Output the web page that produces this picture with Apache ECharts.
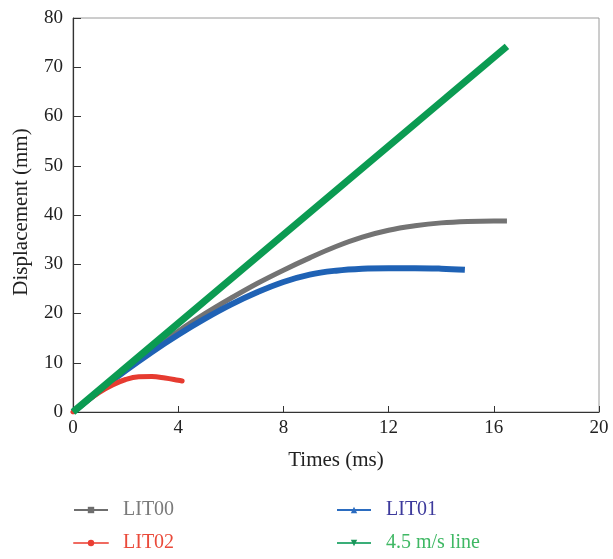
<!DOCTYPE html>
<html>
<head>
<meta charset="utf-8">
<script src="https://cdn.jsdelivr.net/npm/echarts@6/dist/echarts.min.js"></script>
<style>html,body{margin:0;padding:0;background:#fff}#c{width:613px;height:559px}</style>
</head>
<body>
<div id="c"></div>
<script>
var xTicks = [0, 4, 8, 12, 16, 20];
var yTicks = [0, 10, 20, 30, 40, 50, 60, 70, 80];
var seriesNames = ['LIT00', 'LIT01', 'LIT02', '4.5 m/s line'];

var lit00X = [0, 1, 2, 3, 4, 5, 6, 7, 8, 9, 10, 11, 12, 13, 14, 15, 16, 16.5];
var lit00Y = [0, 4.4, 8.7, 12.7, 16.4, 19.9, 23.1, 26.1, 28.8, 31.3, 33.6, 35.5, 36.9, 37.8, 38.4, 38.7, 38.8, 38.8];

var lit01X = [0, 1, 2, 3, 4, 5, 6, 7, 8, 9, 10, 11, 12, 13, 14, 14.9];
var lit01Y = [0, 4.3, 8.4, 12.2, 15.7, 18.9, 21.8, 24.3, 26.4, 27.9, 28.7, 29.1, 29.2, 29.2, 29.1, 28.9];

var lit02X = [0, 0.5, 1, 1.5, 2, 2.5, 3, 3.5, 4, 4.15];
var lit02Y = [0, 2.1, 4.0, 5.5, 6.6, 7.15, 7.2, 6.9, 6.45, 6.3];

var lineX = [0, 16.5];
var lineY = [0, 74.25];

function pairs(xs, ys) { return xs.map(function (x, i) { return [x, ys[i]]; }); }

var FONT = '"Liberation Serif", "DejaVu Serif", serif';
var chart = echarts.init(document.getElementById('c'), null, {renderer: 'canvas'});

function legend(name, left, top, textColor, lineColor, symColor) {
  return {
    data: [{name: name, lineStyle: {width: 2, color: lineColor}, itemStyle: {color: symColor}}],
    left: left, top: top,
    itemWidth: 34, itemHeight: 8,
    selectedMode: false,
    textStyle: {fontFamily: FONT, fontSize: 20, color: textColor, padding: [0, 0, 0, 10]}
  };
}

var option = {
  animation: false,
  backgroundColor: '#fff',
  grid: {left: 73, right: 14, top: 18, bottom: 147, show: true, borderColor: '#9a9a9a', borderWidth: 1},
  legend: [
    legend(seriesNames[0], 68, 495, '#7a7a7a', '#6e6e6e', '#6e6e6e'),
    legend(seriesNames[1], 331, 495, '#3d3a9c', '#2b6cc0', '#2b6cc0'),
    legend(seriesNames[2], 68, 528, '#ea4a3a', '#f06a60', '#ea3e33'),
    legend(seriesNames[3], 331, 528, '#3fb864', '#3aae78', '#19965a')
  ],
  xAxis: {
    type: 'value', min: xTicks[0], max: xTicks[xTicks.length - 1], interval: 4,
    name: 'Times (ms)', nameLocation: 'middle', nameGap: 38,
    nameTextStyle: {fontFamily: FONT, fontSize: 21, color: '#222'},
    axisLine: {show: true, lineStyle: {color: '#333', width: 1.2}},
    axisTick: {show: true, inside: true, length: 6, lineStyle: {color: '#333'}},
    axisLabel: {fontFamily: FONT, fontSize: 19, color: '#222', margin: 7},
    splitLine: {show: false}
  },
  yAxis: {
    type: 'value', min: yTicks[0], max: yTicks[yTicks.length - 1], interval: 10,
    name: 'Displacement (mm)', nameLocation: 'middle', nameGap: 41,
    nameTextStyle: {fontFamily: FONT, fontSize: 21, color: '#222', padding: [0, 0, 0, 6]},
    axisLine: {show: true, lineStyle: {color: '#333', width: 1.2}},
    axisTick: {show: true, inside: true, length: 8, lineStyle: {color: '#333'}},
    axisLabel: {fontFamily: FONT, fontSize: 19, color: '#222', margin: 10},
    splitLine: {show: false}
  },
  series: [
    {name: seriesNames[0], type: 'line', data: pairs(lit00X, lit00Y), smooth: 0.4, showSymbol: false, symbol: 'rect', z: 2,
     lineStyle: {width: 5, color: '#737373'}, itemStyle: {color: '#737373'}},
    {name: seriesNames[1], type: 'line', data: pairs(lit01X, lit01Y), smooth: 0.4, showSymbol: false, symbol: 'triangle', z: 3,
     lineStyle: {width: 6, color: '#1f62b5'}, itemStyle: {color: '#1f62b5'}},
    {name: seriesNames[2], type: 'line', data: pairs(lit02X, lit02Y), smooth: 0.4, showSymbol: false, symbol: 'circle', z: 4,
     lineStyle: {width: 5, color: '#e63b30', cap: 'round'}, itemStyle: {color: '#e63b30'}},
    {name: seriesNames[3], type: 'line', data: pairs(lineX, lineY), showSymbol: false, symbol: 'path://M0,0 L10,0 L5,9 Z', z: 5,
     lineStyle: {width: 7, color: '#0b9b52'}, itemStyle: {color: '#0b9b52'}}
  ]
};
chart.setOption(option);
</script>
</body>
</html>
